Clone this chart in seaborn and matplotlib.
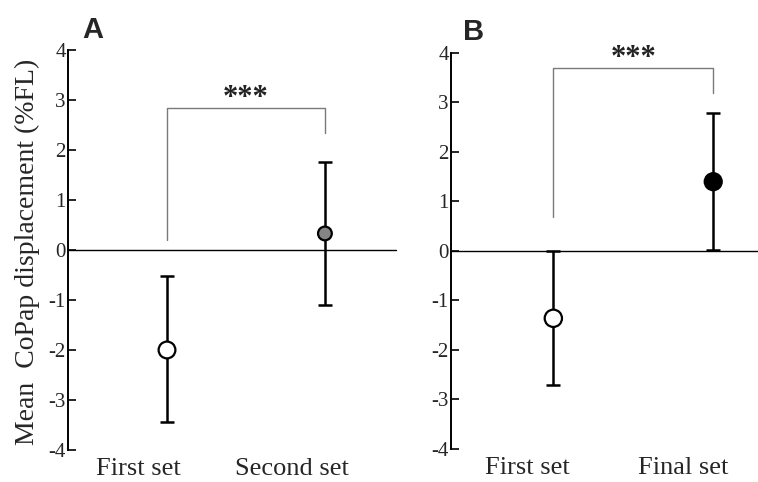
import numpy as np
import pandas as pd
import matplotlib
matplotlib.use("Agg")
import matplotlib.pyplot as plt
import seaborn as sns

# panel A values
sets_a = ['First set', 'Second set']
mean_a = [-2.0, 0.33]
upper_a = [-0.52, 1.75]
lower_a = [-3.45, -1.1]
colors_a = ['white', '#858585']
sizes_a = [146, 98]
bracket_a = [2.83, 0.2, 2.33]   # top, left leg end, right leg end

# panel B values
sets_b = ['First set', 'Final set']
mean_b = [-1.36, 1.4]
upper_b = [0.0, 2.79]
lower_b = [-2.7, 0.02]
colors_b = ['white', 'black']
sizes_b = [155, 150]
bracket_b = [3.7, 0.68, 3.2]

yticks = [-4, -3, -2, -1, 0, 1, 2, 3, 4]

sns.set_style("white")
plt.rcParams['font.family'] = ['Liberation Serif', 'DejaVu Serif']

fig = plt.figure(figsize=(7.58, 4.82), dpi=100)
ax_a = fig.add_axes([0.0897, 0.0664, 0.4327, 0.830])
ax_b = fig.add_axes([0.595, 0.0685, 0.405, 0.8216])


def draw_panel(ax, sets, means, upper, lower, colors, sizes, bracket, xlim, shifts):
    x = np.arange(len(sets))
    df = pd.DataFrame({'x': x, 'mean': means, 'set': sets})
    ax.axhline(0, color='black', lw=1, zorder=1, clip_on=False)
    err = [np.array(means) - np.array(lower), np.array(upper) - np.array(means)]
    ax.errorbar(x, means, yerr=err, fmt='none', ecolor='black', elinewidth=1.8,
                capsize=5, capthick=1.8, zorder=2, clip_on=False)
    sns.scatterplot(data=df, x='x', y='mean', hue='set', palette=dict(zip(sets, colors)),
                    size='set', sizes=dict(zip(sets, sizes)), edgecolor='black',
                    linewidth=1.6, legend=False, zorder=3, ax=ax, clip_on=False)
    top, left_end, right_end = bracket
    ax.plot([x[0], x[0], x[1], x[1]], [left_end, top, top, right_end],
            color='#7a7a7a', lw=1, clip_on=False)
    ax.text((x[0] + x[1]) / 2, top - 0.1, '***', ha='center', va='bottom',
            fontsize=22, fontweight='bold', color='#222222')

    ax.set_xlim(xlim)
    ax.set_ylim(-4, 4)
    ax.set_yticks(yticks)
    ax.set_yticklabels([str(t) for t in yticks], fontsize=15)
    # labels sit a little left of the points
    px_per_unit = ax.get_position().width * fig.get_figwidth() * fig.dpi / (xlim[1] - xlim[0])
    ax.set_xticks(x + np.array(shifts) / px_per_unit)
    ax.set_xticklabels(sets, fontsize=19)
    ax.tick_params(axis='x', length=0, pad=6)
    ax.tick_params(axis='y', direction='in', length=6, width=1.4, pad=1.5, left=True)
    ax.set_xlabel('')
    ax.set_ylabel('')
    for side in ['top', 'right', 'bottom']:
        ax.spines[side].set_visible(False)
    ax.spines['left'].set_linewidth(1.4)
    ax.spines['left'].set_color('black')


draw_panel(ax_a, sets_a, mean_a, upper_a, lower_a, colors_a, sizes_a, bracket_a,
           (-0.627, 1.45), [-29, -33])
draw_panel(ax_b, sets_b, mean_b, upper_b, lower_b, colors_b, sizes_b, bracket_b,
           (-0.64, 1.28), [-26, -30])

fig.text(82 / 758, 1 - 38 / 482, 'A', fontsize=21, fontweight='bold',
         family='Liberation Sans', ha='left', va='baseline')
fig.text(463 / 758, 1 - 40 / 482, 'B', fontsize=21, fontweight='bold',
         family='Liberation Sans', ha='left', va='baseline')

fig.text(27 / 758, 1 - 252 / 482, 'Mean  CoPap displacement (%FL)', rotation=90,
         ha='center', va='center', fontsize=20)

plt.savefig('out.png', dpi=100)
